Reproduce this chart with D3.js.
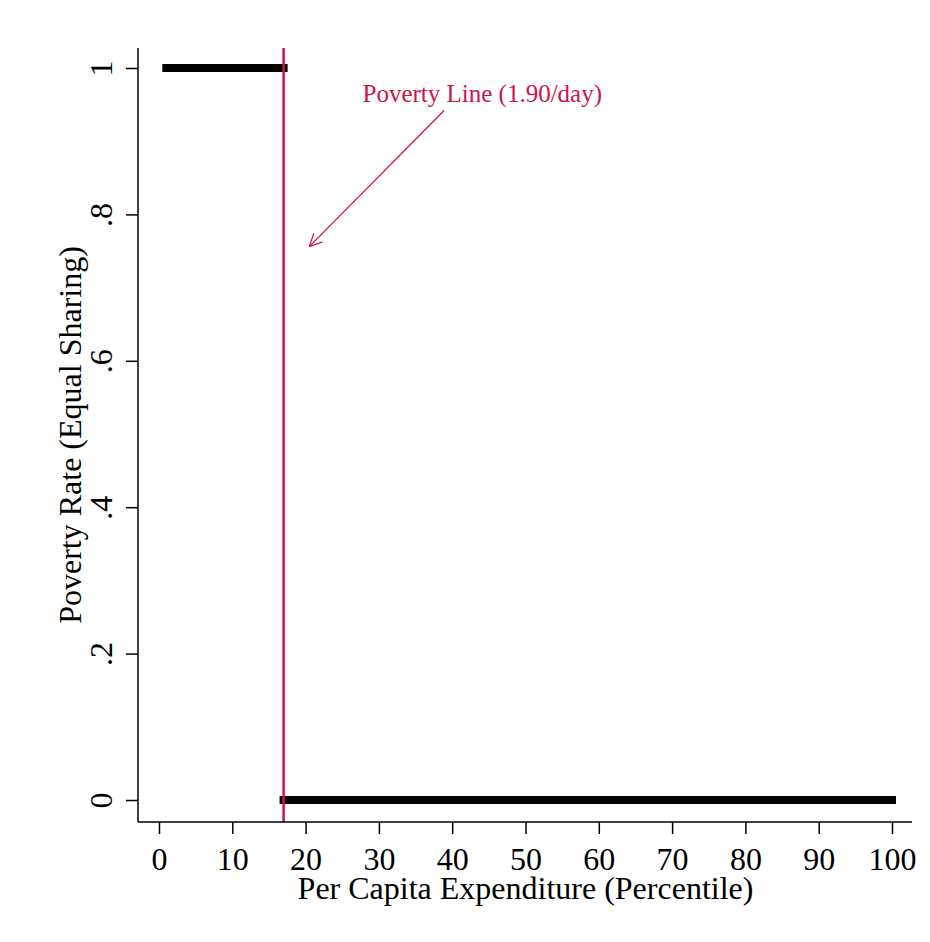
<!DOCTYPE html>
<html>
<head>
<meta charset="utf-8">
<script src="https://cdn.jsdelivr.net/npm/d3@7"></script>
<style>
  body { margin: 0; background: #fff; }
  text { font-family: "Liberation Serif", "Times New Roman", serif; }
</style>
</head>
<body>
<div id="chart"></div>
<script>
let w = 930;
let h = 942;
let margin = {top: 48, right: 18, bottom: 120, left: 138};
let red = "#cc1449";
let tickFont = "32px";

// percentile points and their poverty rate
let poorPct = [1,2,3,4,5,6,7,8,9,10,11,12,13,14,15,16,17];
let nonPoorPct = [17,18,19,20,21,22,23,24,25,26,27,28,29,30,31,32,33,34,35,36,37,38,39,40,
  41,42,43,44,45,46,47,48,49,50,51,52,53,54,55,56,57,58,59,60,61,62,63,64,65,66,67,68,69,70,
  71,72,73,74,75,76,77,78,79,80,81,82,83,84,85,86,87,88,89,90,91,92,93,94,95,96,97,98,99,100];
let poorRate = 1;
let nonPoorRate = 0;

let xTicks = [0,10,20,30,40,50,60,70,80,90,100];
let yTicks = [0,0.2,0.4,0.6,0.8,1];
let yTickLabels = ["0",".2",".4",".6",".8","1"];

let povertyLine = 17;
let noteText = "Poverty Line (1.90/day)";
let notePos = [44.1, 0.954];
let arrowFrom = [38.9, 0.942];
let arrowTo = [20.5, 0.756];

var svg = d3.select("#chart").append("svg")
    .attr("width", w)
    .attr("height", h);

// scales
var x = d3.scaleLinear().domain([0, 100]).range([159, 892]);
var y = d3.scaleLinear().domain([0, 1]).range([800, 68]);

var axisY = 822;

//points (square markers, they overlap into a thick bar)
var pts = poorPct.map(function(p){ return {p: p, r: poorRate}; })
    .concat(nonPoorPct.map(function(p){ return {p: p, r: nonPoorRate}; }));

svg.selectAll("rect.pt")
   .data(pts)
   .enter()
   .append("rect")
   .attr("class", "pt")
   .attr("x", function(d){ return x(d.p) - 4; })
   .attr("y", function(d){ return y(d.r) - 4; })
   .attr("width", 8)
   .attr("height", 8)
   .style("fill", "#000");

// poverty line
svg.append("line")
   .attr("x1", x(povertyLine)).attr("x2", x(povertyLine))
   .attr("y1", margin.top).attr("y2", axisY)
   .style("stroke", red)
   .style("stroke-width", 2.5);

// annotation
svg.append("text")
   .attr("x", x(notePos[0]))
   .attr("y", y(notePos[1]))
   .attr("text-anchor", "middle")
   .style("font-size", "25px")
   .style("fill", red)
   .text(noteText);

svg.append("line")
   .attr("x1", x(arrowFrom[0])).attr("y1", y(arrowFrom[1]))
   .attr("x2", x(arrowTo[0])).attr("y2", y(arrowTo[1]))
   .style("stroke", red)
   .style("stroke-width", 1.3);

// open arrow head
var ax = x(arrowTo[0]), ay = y(arrowTo[1]);
var ang = Math.atan2(y(arrowFrom[1]) - ay, x(arrowFrom[0]) - ax);
[0.45, -0.45].forEach(function(da){
    svg.append("line")
       .attr("x1", ax).attr("y1", ay)
       .attr("x2", ax + 14 * Math.cos(ang + da))
       .attr("y2", ay + 14 * Math.sin(ang + da))
       .style("stroke", red)
       .style("stroke-width", 1.3);
});

// axes
var xAxis = d3.axisBottom(x).tickValues(xTicks).tickSize(12).tickSizeOuter(0);
var gx = svg.append("g")
    .attr("transform", "translate(0," + axisY + ")")
    .call(xAxis);
gx.select(".domain").remove();
gx.append("line")
  .attr("x1", 138).attr("x2", 912)
  .style("stroke", "#000").style("stroke-width", 1.5);
gx.selectAll(".tick line").style("stroke-width", 1.5);
gx.selectAll(".tick text")
  .attr("y", 48).attr("dy", null)
  .style("font-size", tickFont)
  .style("font-family", "Liberation Serif")
  .attr("fill", "#000");

var yAxis = d3.axisLeft(y).tickValues(yTicks).tickSize(12).tickSizeOuter(0)
    .tickFormat(function(d, i){ return yTickLabels[i]; });
var gy = svg.append("g")
    .attr("transform", "translate(138,0)")
    .call(yAxis);
gy.select(".domain").remove();
gy.append("line")
  .attr("y1", margin.top).attr("y2", axisY)
  .style("stroke", "#000").style("stroke-width", 1.5);
gy.selectAll(".tick line").style("stroke-width", 1.5);
gy.selectAll(".tick text")
  .attr("x", null).attr("dy", null)
  .attr("text-anchor", "middle")
  .attr("transform", "translate(-26,0) rotate(-90)")
  .attr("y", 0)
  .style("font-size", tickFont)
  .style("font-family", "Liberation Serif")
  .attr("fill", "#000");

// axis titles
svg.append("text")
   .attr("x", (298 + 753) / 2)
   .attr("y", 899)
   .attr("text-anchor", "middle")
   .style("font-size", "32px")
   .text("Per Capita Expenditure (Percentile)");

svg.append("text")
   .attr("transform", "translate(81," + ((margin.top + axisY) / 2) + ") rotate(-90)")
   .attr("text-anchor", "middle")
   .style("font-size", "32px")
   .text("Poverty Rate (Equal Sharing)");
</script>
</body>
</html>
